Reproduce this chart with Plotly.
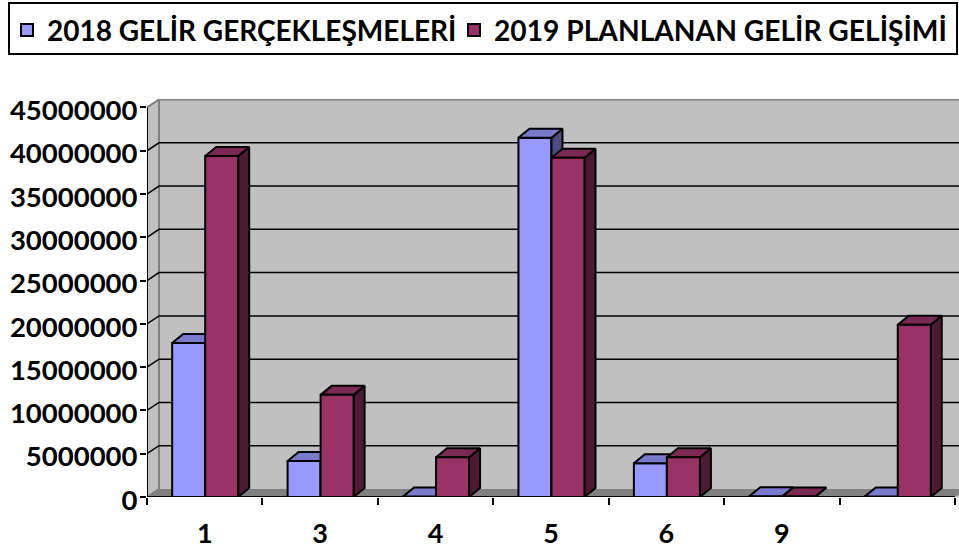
import plotly.graph_objects as go

categories = ["1", "3", "4", "5", "6", "9", ""]
gelir_2018 = [17800000, 4150000, 50000, 41500000, 3900000, 80000, 50000]
gelir_2019 = [39400000, 11800000, 4600000, 39200000, 4600000, 50000, 19900000]
y_ticks = list(range(0, 45000001, 5000000))
names = ["2018 GELİR GERÇEKLEŞMELERİ", "2019 PLANLANAN GELİR GELİŞİMİ"]

FONT = "Lato"
W, H = 959, 548
L, T, B = 147, 99, 51
n = len(categories)
px_x = 115.43
px_y = 8.656e-6
x_max = (W - L) / px_x
y_max = (H - T - B) / px_y
bar_w = 0.286
bar_start = 0.218
bdx, bdy = 11 / px_x, 9 / px_y
wdx, wdy = 12 / px_x, 8 / px_y
centers = [i + 0.5 for i in range(n)]
bar_x = [i + bar_start + bar_w for i in range(n)]


def faces(vals, left):
    side_x, side_y, top_x, top_y = [], [], [], []
    for i, v in enumerate(vals):
        x0 = i + left
        x1 = x0 + bar_w
        side_x += [x1, x1 + bdx, x1 + bdx, x1, x1, None]
        side_y += [0, bdy, v + bdy, v, 0, None]
        top_x += [x0, x0 + bdx, x1 + bdx, x1, x0, None]
        top_y += [v, v + bdy, v + bdy, v, v, None]
    return side_x, side_y, top_x, top_y


def poly(x, y, fill, line="black", width=2, z=0):
    return go.Scatter(x=x, y=y, mode="lines", fill="toself", fillcolor=fill,
                      line=dict(color=line, width=width), showlegend=False,
                      hoverinfo="skip", zorder=z, cliponaxis=True)


def path(x, y, color, width, z, clip=True):
    return go.Scatter(x=x, y=y, mode="lines", line=dict(color=color, width=width),
                      showlegend=False, hoverinfo="skip", zorder=z, cliponaxis=clip)


fig = go.Figure()
ymax45 = y_ticks[-1]
# walls and floor
fig.add_trace(poly([0, 0, wdx, x_max + 1, x_max + 1, 0],
                   [0, ymax45, ymax45 + wdy, ymax45 + wdy, 0, 0], "#c0c0c0", "rgba(0,0,0,0)", 0, z=-6))
fig.add_trace(poly([0, n, n + wdx, x_max + 1, x_max + 1, wdx, 0], [0, 0, wdy, wdy, wdy, wdy, 0], "#808080", "rgba(0,0,0,0)", 0, z=-5))
fig.add_trace(path([0, wdx, wdx, wdx, x_max + 1], [ymax45, ymax45 + wdy, wdy, ymax45 + wdy, ymax45 + wdy], "#808080", 2, -5))
fig.add_trace(path([0, wdx], [0, wdy], "#808080", 2, -5))
# gridlines along wall
gx, gy = [], []
for t in y_ticks[1:-1]:
    gx += [0, wdx, x_max + 1, None]
    gy += [t, t + wdy, t + wdy, None]
fig.add_trace(path(gx, gy, "black", 1.5, -4))

# series 2018
s = faces(gelir_2018, bar_start)
fig.add_trace(go.Bar(x=bar_x, y=gelir_2018, name=names[0], legend="legend", showlegend=True,
                     marker=dict(color="#9999ff", line=dict(color="black", width=2)), zorder=0, hoverinfo="skip"))
fig.add_trace(poly(s[0], s[1], "#4d4d80", z=1))
fig.add_trace(poly(s[2], s[3], "#7a7acc", z=1))
# series 2019
s = faces(gelir_2019, bar_start + bar_w)
fig.add_trace(poly(s[0], s[1], "#4d1a33", z=2))
fig.add_trace(poly(s[2], s[3], "#7a2952", z=2))
fig.add_trace(go.Bar(x=bar_x, y=gelir_2019, name=names[1], legend="legend2", showlegend=True,
                     marker=dict(color="#993366", line=dict(color="black", width=2)), zorder=3, hoverinfo="skip"))
# axis lines
fig.add_trace(path([0, 0], [0, ymax45], "black", 2, 4, clip=False))
fig.add_trace(path([0, n], [0, 0], "black", 2, 4, clip=False))

legend_common = dict(orientation="h", xref="container", yref="container",
                     y=0.9905, xanchor="left", yanchor="top",
                     borderwidth=0, bgcolor="rgba(0,0,0,0)",
                     itemclick=False, itemdoubleclick=False)

fig.update_layout(
    width=W, height=H,
    margin=dict(l=L, r=0, t=T, b=B, pad=0, autoexpand=False),
    paper_bgcolor="white", plot_bgcolor="white",
    barmode="group", bargap=1 - 2 * bar_w, bargroupgap=0,
    font=dict(family=FONT, size=28, color="black"),
    legend=dict(x=7 / W, font=dict(family=FONT, size=28, weight="bold"), **legend_common),
    legend2=dict(x=454 / W, font=dict(family=FONT, size=28.2, weight="bold"), **legend_common),
    shapes=[dict(type="rect", xref="paper", yref="paper",
                 x0=(9 - L) / (W - L), x1=(957 - L) / (W - L),
                 y0=(H - B - 54) / (H - T - B), y1=(H - B - 3) / (H - T - B),
                 line=dict(color="black", width=2), layer="above")],
    xaxis=dict(range=[0, x_max], showgrid=False, zeroline=False, showline=False,
               tickvals=centers, ticktext=categories, ticks="outside", ticklen=13,
               tickcolor="rgba(0,0,0,0)", tickfont=dict(family=FONT, size=27, weight="bold"),
               minor=dict(tickvals=list(range(n + 1)), ticks="outside", ticklen=7, tickcolor="black", tickwidth=2)),
    yaxis=dict(range=[0, y_max], showgrid=False, zeroline=False, showline=False,
               tickvals=y_ticks, ticktext=[str(t) for t in y_ticks], ticks="outside", ticklen=6,
               ticklabelstandoff=-3, ticklabelshift=3,
               tickcolor="black", tickwidth=2, tickfont=dict(family=FONT, size=27.5, weight="bold")),
)
fig.write_html("out.html", config={"displayModeBar": False},
               post_script="document.body.style.margin='0';")
